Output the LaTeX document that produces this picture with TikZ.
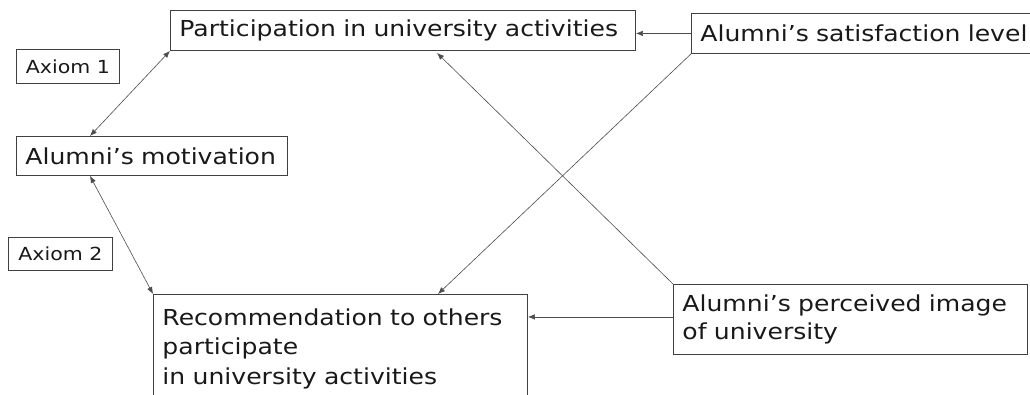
\documentclass[tikz,border=0pt]{standalone}
\usepackage{fontspec}
\setmainfont{DejaVu Sans}[FakeStretch=1.14]
\usetikzlibrary{arrows.meta}
\begin{document}
\begin{tikzpicture}[x=1pt,y=-1pt,
  box/.style={draw=black!75, line width=0.9pt, rectangle, inner xsep=9pt, inner ysep=0pt,
    align=left, anchor=north west, text=black!90, font=\fontsize{22}{27.4}\selectfont},
  axbox/.style={box, align=center, font=\fontsize{18}{20}\selectfont, inner xsep=2pt},
  link/.style={draw=black!70, line width=0.6pt},
  tip/.style={-{Latex[length=7pt,width=5.5pt]}},
  both/.style={{Latex[length=7pt,width=5.5pt]}-{Latex[length=7pt,width=5.5pt]}}]
\useasboundingbox (0,0) rectangle (1030,394);
\clip (0,0) rectangle (1030,394);
\fill[white] (0,0) rectangle (1030,394);

\node[box, minimum width=465pt, text width=447pt, minimum height=40pt] (part) at (170,10) {Participation in university activities};
\node[box, minimum width=345pt, text width=327pt, minimum height=40pt] (sat) at (691,13) {Alumni’s satisfaction level};
\node[axbox, minimum width=103pt, minimum height=34pt] (ax1) at (16,49) {Axiom 1};
\node[box, minimum width=271pt, text width=253pt, minimum height=39pt] (mot) at (16,136) {Alumni’s motivation};
\node[axbox, minimum width=104pt, minimum height=33pt] (ax2) at (8,237) {Axiom 2};
\node[box, minimum width=374pt, text width=356pt, minimum height=108pt, font=\fontsize{22}{29.5}\selectfont] (rec) at (153,294) {Recommendation to others\\participate\\in university activities};
\node[box, minimum width=354pt, text width=336pt, minimum height=70pt] (img) at (673,284) {Alumni’s perceived image\\of university};

\coordinate (mtop) at ([xshift=74pt]mot.north west);
\coordinate (mbot) at ([xshift=74pt]mot.south west);
\coordinate (rtop) at ([xshift=285pt]rec.north west);
\coordinate (ptop) at ([xshift=267pt,yshift=-2pt]part.south west);
\coordinate (isrc) at ([yshift=2.5pt]img.west);
\coordinate (rright) at (isrc -| rec.east);

\draw[link,both] (part.south west) -- (mtop);
\draw[link,both] (mbot) -- (rec.north west);
\draw[link,tip] (sat.west) -- (sat.west -| part.east);
\draw[link,tip] (sat.south west) -- (rtop);
\draw[link,tip] (img.north west) -- (ptop);
\draw[link,tip] (isrc) -- (rright);
\end{tikzpicture}
\end{document}
